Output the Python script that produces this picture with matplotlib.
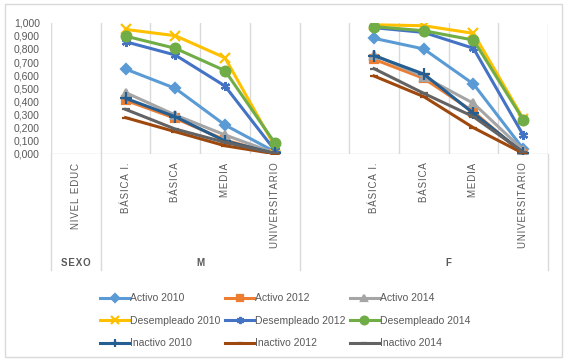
import matplotlib
matplotlib.use("Agg")
import matplotlib.pyplot as plt
from matplotlib.patches import Rectangle
import numpy as np

plt.rcParams["font.family"] = ["Liberation Sans", "DejaVu Sans"]

# data
levels = ["BÁSICA I.", "BÁSICA", "MEDIA", "UNIVERSITARIO"]
groups = ["M", "F"]
series = ["Activo 2010", "Activo 2012", "Activo 2014",
          "Desempleado 2010", "Desempleado 2012", "Desempleado 2014",
          "Inactivo 2010", "Inactivo 2012", "Inactivo 2014"]
vals_m = [
    [0.647, 0.500, 0.221, 0.018],
    [0.409, 0.272, 0.107, 0.000],
    [0.468, 0.297, 0.145, 0.008],
    [0.949, 0.901, 0.733, 0.060],
    [0.855, 0.754, 0.518, 0.030],
    [0.898, 0.805, 0.635, 0.086],
    [0.424, 0.284, 0.099, 0.005],
    [0.277, 0.170, 0.063, 0.002],
    [0.340, 0.190, 0.089, 0.005],
]
vals_f = [
    [0.881, 0.800, 0.533, 0.040],
    [0.721, 0.576, 0.322, 0.000],
    [0.755, 0.589, 0.386, 0.030],
    [0.984, 0.977, 0.919, 0.270],
    [0.962, 0.926, 0.805, 0.145],
    [0.970, 0.939, 0.868, 0.262],
    [0.749, 0.609, 0.310, 0.010],
    [0.594, 0.437, 0.200, 0.005],
    [0.650, 0.462, 0.284, 0.015],
]
yticks = np.arange(0, 1.001, 0.1)

colors = ["#5B9BD5", "#ED7D31", "#A5A5A5", "#FFC000", "#4472C4", "#70AD47",
          "#255E91", "#9E480E", "#636363"]
markers = ["D", "s", "^", "x", (6, 2, 0), "o", "+", "_", "_"]
msizes = [5, 5.5, 6, 6.5, 6.5, 7, 8, 6, 6]

txt = "#595959"
grid = "#D9D9D9"

def spaced(s):
    return "\u200a".join(s)

fig = plt.figure(figsize=(5.66, 3.61), dpi=100)
ax = fig.add_axes([51 / 566, 1 - 154 / 361, 497 / 566, 131.3 / 361])

# M group: slots 1..4 (slot 5 empty), F group: slots 6..9, slot 0 = header
xm = np.arange(len(levels)) + 1.5
xf = np.arange(len(levels)) + 6.5

handles = []
for i, name in enumerate(series):
    h, = ax.plot(xm, vals_m[i], color=colors[i], lw=2.2, marker=markers[i],
                 markersize=msizes[i], mew=1.6, label=name, zorder=3 + i)
    ax.plot(xf, vals_f[i], color=colors[i], lw=2.2, marker=markers[i],
            markersize=msizes[i], mew=1.6, zorder=3 + i)
    handles.append(h)

ax.set_xlim(0, 10)
ax.set_ylim(0, 1.0)
for s in ax.spines.values():
    s.set_visible(False)
ax.axhline(0, color=grid, lw=1, zorder=2)
for xv in range(11):
    ax.axvline(xv, color=grid, lw=1, zorder=1)

ax.set_xticks([])
ax.set_yticks(yticks)
ax.set_yticklabels(["{:.3f}".format(v).replace(".", ",") for v in yticks])
ax.tick_params(axis="y", length=0, pad=8, labelsize=7.5, labelcolor=txt)

# multi-level category area below the axis
tr = ax.get_xaxis_transform()
bottom = -116 / 131.3
for xv in [0, 1, 5, 10]:
    ax.plot([xv, xv], [0, bottom], color=grid, lw=1, transform=tr, clip_on=False)

ax.text(0.5, -0.065, spaced("NIVEL EDUC"), transform=tr, rotation=90,
        ha="center", va="top", fontsize=7, color=txt)
for xs in (xm, xf):
    for x, lab in zip(xs, levels):
        ax.text(x, -0.065, spaced(lab), transform=tr, rotation=90,
                ha="center", va="top", fontsize=7, color=txt)
ax.text(0.5, -0.83, spaced("SEXO"), transform=tr, ha="center", va="center",
        fontsize=7, color=txt, fontweight="bold")
ax.text(3.0, -0.83, groups[0], transform=tr, ha="center", va="center",
        fontsize=7, color=txt, fontweight="bold")
ax.text(8.0, -0.83, groups[1], transform=tr, ha="center", va="center",
        fontsize=7, color=txt, fontweight="bold")

# legend is filled row by row in the reference
order = [0, 3, 6, 1, 4, 7, 2, 5, 8]
leg = fig.legend([handles[k] for k in order], [series[k] for k in order],
                 loc="upper left", bbox_to_anchor=(96 / 566, 1 - 289 / 361),
                 ncol=3, frameon=False, fontsize=7.5, handlelength=2.8,
                 handletextpad=0.1, columnspacing=0.4, labelspacing=1.2,
                 numpoints=1, borderaxespad=0, markerscale=0.8)
for t in leg.get_texts():
    t.set_color(txt)

fig.patches.append(Rectangle((5 / 566, 4 / 361), 557 / 566, 353 / 361,
                             transform=fig.transFigure, fill=False,
                             edgecolor=grid, lw=1))

fig.savefig("out.png", dpi=100)
